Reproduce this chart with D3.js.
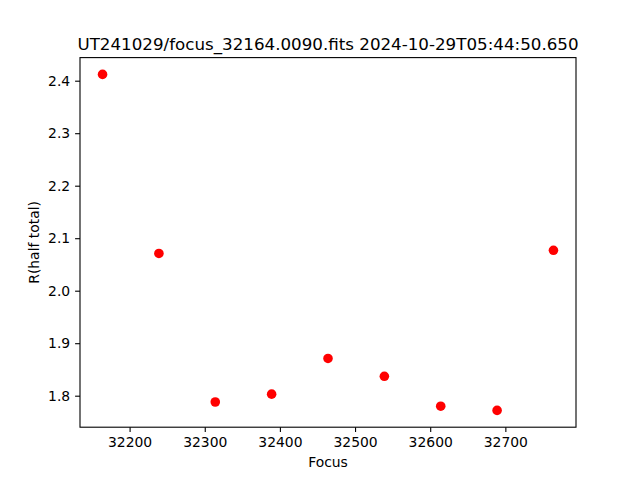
<!DOCTYPE html>
<html>
<head>
<meta charset="utf-8">
<script src="https://cdn.jsdelivr.net/npm/d3@7"></script>
<style>
  body { margin: 0; background: white; }
  svg text { font-family: "DejaVu Sans", sans-serif; fill: black; }
</style>
</head>
<body>
<div id="chart"></div>
<script>
// data
var focus = [32164, 32239, 32314, 32389, 32464, 32539, 32614, 32689, 32764]
var rHalf = [2.412, 2.071, 1.788, 1.803, 1.871, 1.837, 1.780, 1.772, 2.077]
var xTicks = [32200, 32300, 32400, 32500, 32600, 32700]
var yTicks = [1.8, 1.9, 2.0, 2.1, 2.2, 2.3, 2.4]
var title = "UT241029/focus_32164.0090.fits 2024-10-29T05:44:50.650"

var width = 640, height = 480
var margin = { left: 80, right: 64, top: 57.6, bottom: 52.8 }

var svg = d3.select("#chart")
  .append("svg")
  .attr("width", width)
  .attr("height", height)

// matplotlib style 5% padding
var xExt = d3.extent(focus), yExt = d3.extent(rHalf)
var xPad = (xExt[1] - xExt[0]) * 0.05, yPad = (yExt[1] - yExt[0]) * 0.05

var xScale = d3.scaleLinear()
  .domain([xExt[0] - xPad, xExt[1] + xPad])
  .range([margin.left, width - margin.right])

var yScale = d3.scaleLinear()
  .domain([yExt[0] - yPad, yExt[1] + yPad])
  .range([height - margin.bottom, margin.top])

var xAxis = d3.axisBottom(xScale)
  .tickValues(xTicks)
  .tickSize(4.9)
  .tickPadding(4.9)
  .tickFormat(d => d)

var yAxis = d3.axisLeft(yScale)
  .tickValues(yTicks)
  .tickSize(4.9)
  .tickPadding(4.9)
  .tickFormat(d3.format(".1f"))

svg.append("g")
  .attr("transform", `translate(0,${height - margin.bottom})`)
  .call(xAxis)
  .call(g => g.select(".domain").remove())
  .call(g => g.selectAll("line").attr("stroke-width", 1.1))
  .selectAll("text")
  .style("font-size", "13.9px")

svg.append("g")
  .attr("transform", `translate(${margin.left},0)`)
  .call(yAxis)
  .call(g => g.select(".domain").remove())
  .call(g => g.selectAll("line").attr("stroke-width", 1.1))
  .selectAll("text")
  .style("font-size", "13.9px")

// frame
svg.append("rect")
  .attr("x", margin.left)
  .attr("y", margin.top)
  .attr("width", width - margin.left - margin.right)
  .attr("height", height - margin.top - margin.bottom)
  .attr("fill", "none")
  .attr("stroke", "black")
  .attr("stroke-width", 1.1)

svg.selectAll(".dot")
  .data(focus)
  .enter()
  .append("circle")
  .attr("class", "dot")
  .attr("cx", d => xScale(d))
  .attr("cy", (d, i) => yScale(rHalf[i]))
  .attr("r", 4.8)
  .style("fill", "red")

svg.append("text")
  .attr("x", (margin.left + width - margin.right) / 2)
  .attr("y", margin.top - 8)
  .attr("text-anchor", "middle")
  .style("font-size", "16.7px")
  .text(title)

svg.append("text")
  .attr("x", (margin.left + width - margin.right) / 2)
  .attr("y", 467)
  .attr("text-anchor", "middle")
  .style("font-size", "13.9px")
  .text("Focus")

svg.append("text")
  .attr("transform", `translate(39,${(margin.top + height - margin.bottom) / 2}) rotate(-90)`)
  .attr("text-anchor", "middle")
  .style("font-size", "13.9px")
  .text("R(half total)")
</script>
</body>
</html>
